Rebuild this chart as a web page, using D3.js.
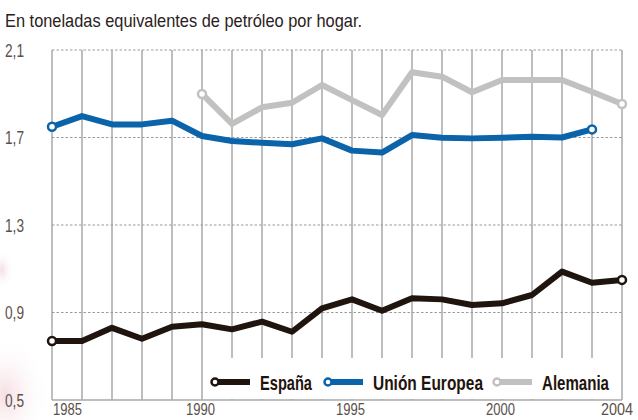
<!DOCTYPE html>
<html><head><meta charset="utf-8">
<script src="https://cdn.jsdelivr.net/npm/d3@7"></script>
<style>
html,body{margin:0;padding:0;background:#fff;}
svg{display:block;}
</style></head>
<body>
<svg id="c" width="638" height="420"></svg>
<script>
const years = d3.range(1985, 2005);
const espana = [0.77,0.77,0.83,0.78,0.835,0.846,0.823,0.858,0.812,0.919,0.96,0.908,0.965,0.96,0.934,0.942,0.98,1.087,1.036,1.049];
const unionEuropea = [1.749,1.798,1.76,1.76,1.777,1.707,1.684,1.676,1.669,1.696,1.64,1.631,1.711,1.699,1.696,1.699,1.703,1.70,1.737,null];
const alemania = [null,null,null,null,null,1.899,1.762,1.838,1.859,1.94,1.871,1.803,1.998,1.978,1.907,1.963,1.963,1.963,1.909,1.853];
const yTicks = [0.5,0.9,1.3,1.7,2.1];
const xLabels = [1985,1990,1995,2000,2004];
const subtitle = "En toneladas equivalentes de petróleo por hogar.";
const seriesNames = ["España","Unión Europea","Alemania"];
const colors = ["#1f140e","#0b63a9","#c2c1bf"];

const svg = d3.select("#c");
const font = "'Liberation Sans',Arial,sans-serif";

// faint background blush on left
const defs = svg.append("defs");
const rg = defs.append("radialGradient").attr("id","blush");
rg.append("stop").attr("offset","0%").attr("stop-color","#f3d6dc").attr("stop-opacity",0.8);
rg.append("stop").attr("offset","100%").attr("stop-color","#fff").attr("stop-opacity",0);
svg.append("ellipse").attr("cx",5).attr("cy",395).attr("rx",45).attr("ry",60).attr("fill","url(#blush)");
svg.append("ellipse").attr("cx",2).attr("cy",270).attr("rx",12).attr("ry",20).attr("fill","url(#blush)");

const x = d3.scaleLinear().domain([1985,2004]).range([52,622]);
const y = d3.scaleLinear().domain([0.5,2.1]).range([400,50]);

svg.append("text").attr("x",5).attr("y",27).attr("font-family",font)
  .attr("font-size",19).attr("fill","#2a211c")
  .attr("textLength",357).attr("lengthAdjust","spacingAndGlyphs").text(subtitle);

// vertical grid
svg.append("g").selectAll("line").data(years).join("line")
  .attr("x1",d=>x(d)).attr("x2",d=>x(d)).attr("y1",y(2.1)).attr("y2",y(0.5))
  .attr("stroke","#a9a9a9").attr("stroke-width",1.5);

// horizontal dotted grid
svg.append("g").selectAll("line").data(yTicks.filter(t=>t>0.5)).join("line")
  .attr("x1",x(1985)).attr("x2",x(2004)).attr("y1",d=>y(d)).attr("y2",d=>y(d))
  .attr("stroke","#9a9a9a").attr("stroke-width",1.2).attr("stroke-dasharray","2.5,2");
// baseline
svg.append("line").attr("x1",x(1985)).attr("x2",x(2004)).attr("y1",y(0.5)).attr("y2",y(0.5))
  .attr("stroke","#a9a9a9").attr("stroke-width",1.5);

// y axis labels
const yAxis = d3.axisLeft(y).tickValues(yTicks).tickSize(0).tickPadding(0)
  .tickFormat(d=>d3.format(".1f")(d).replace(".",","));
const ga = svg.append("g").attr("transform","translate(5,0)").call(yAxis);
ga.select(".domain").remove();
ga.selectAll("text").attr("font-family",font).attr("font-size",18).attr("fill","#5a514c")
  .attr("text-anchor","start").attr("dy","0.36em")
  .attr("textLength",19).attr("lengthAdjust","spacingAndGlyphs");

// x labels
svg.append("g").selectAll("text").data(xLabels).join("text")
  .attr("x",d=>d===1985?x(d)+1:d===2004?x(d)-21:x(d)-16).attr("y",415)
  .attr("font-family",font).attr("font-size",17).attr("fill","#5a514c")
  .attr("textLength",d=>d===2004?32:29).attr("lengthAdjust","spacingAndGlyphs")
  .text(d=>d);

// series lines
const data = [espana, unionEuropea, alemania];
const line = d3.line().x(d=>x(d.yr)).y(d=>y(d.v));
[2,1,0].forEach(i=>{
  const pts = years.map((yr,k)=>({yr, v:data[i][k]})).filter(d=>d.v!=null);
  svg.append("path").datum(pts).attr("d",line).attr("fill","none")
    .attr("stroke",colors[i]).attr("stroke-width",6).attr("stroke-linejoin","round");
  const ends = [pts[0], pts[pts.length-1]];
  svg.append("g").selectAll("circle").data(ends).join("circle")
    .attr("cx",d=>x(d.yr)).attr("cy",d=>y(d.v)).attr("r",4)
    .attr("fill","#fff").attr("stroke",colors[i]).attr("stroke-width",2.5);
});

// legend box
svg.append("rect").attr("x",x(1990)+1).attr("y",358).attr("width",x(2004)-x(1990)-2).attr("height",41)
  .attr("fill","#fff");
const legX = [215, 328, 497];
const legW = [52, 110, 67];
const lg = svg.append("g");
seriesNames.forEach((n,i)=>{
  const g = lg.append("g").attr("transform",`translate(${legX[i]},382)`);
  g.append("line").attr("x1",0).attr("x2",35).attr("y1",0).attr("y2",0)
    .attr("stroke",colors[i]).attr("stroke-width",6);
  g.append("circle").attr("cx",0).attr("cy",0).attr("r",3.5).attr("fill","#fff")
    .attr("stroke",colors[i]).attr("stroke-width",2.5);
  g.append("text").attr("x",45).attr("y",7.5).attr("font-family",font).attr("font-weight","bold")
    .attr("font-size",21).attr("fill","#1f140e")
    .attr("textLength",legW[i]).attr("lengthAdjust","spacingAndGlyphs").text(n);
});
</script>
</body></html>
